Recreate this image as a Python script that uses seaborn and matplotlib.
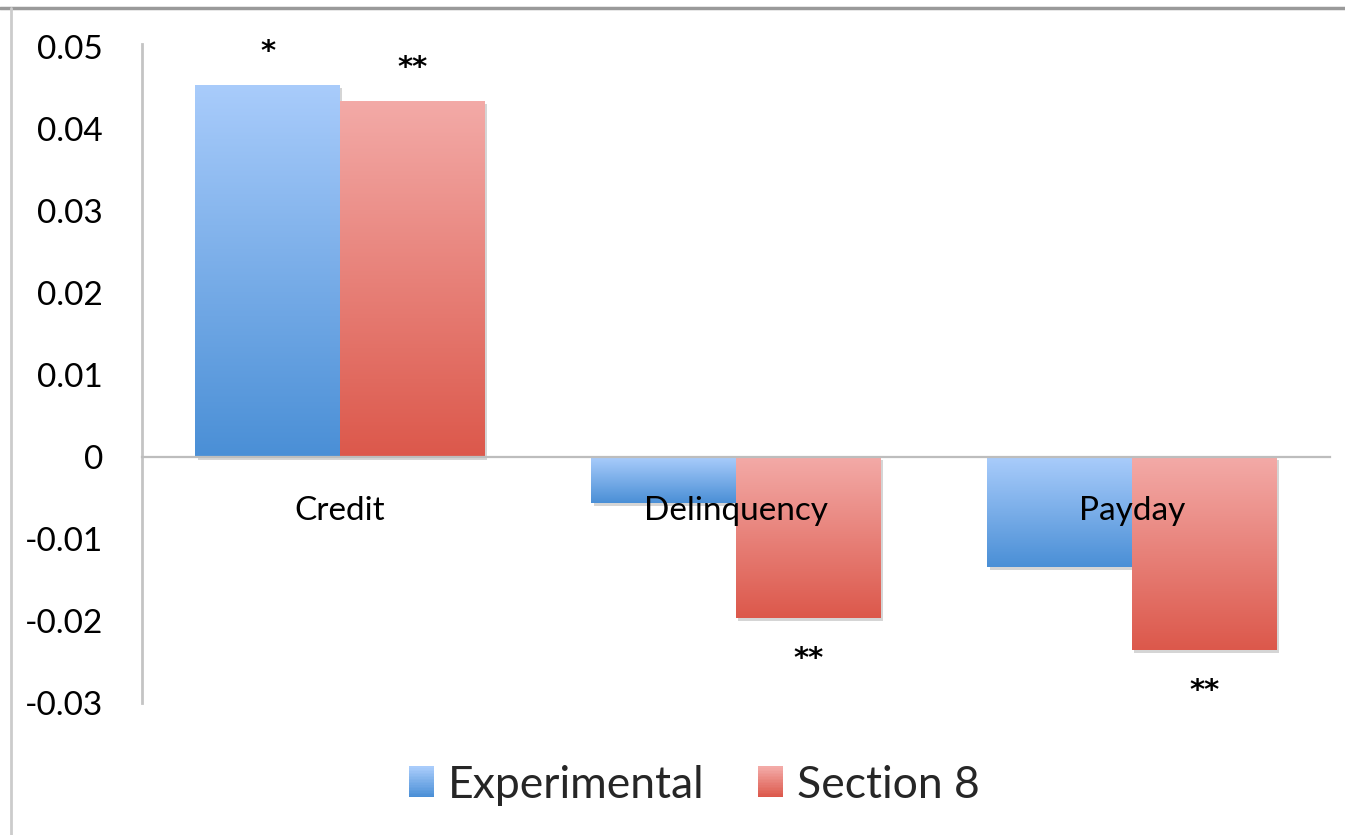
import numpy as np
import pandas as pd
import seaborn as sns
import matplotlib.pyplot as plt
from matplotlib.colors import LinearSegmentedColormap
from matplotlib.patches import Rectangle
from matplotlib.lines import Line2D
from matplotlib.legend_handler import HandlerBase
import matplotlib.patheffects as pe

# Data
categories = ['Credit', 'Delinquency', 'Payday']
experimental = [0.0454, -0.0056, -0.0134]
section8 = [0.0434, -0.0196, -0.0235]
exp_stars = ['*', '', '']
sec8_stars = ['**', '**', '**']
series_names = ['Experimental', 'Section 8']
y_ticks = [-0.03, -0.02, -0.01, 0, 0.01, 0.02, 0.03, 0.04, 0.05]
y_labels = ['-0.03', '-0.02', '-0.01', '0', '0.01', '0.02', '0.03', '0.04', '0.05']

# gradient colours (top, bottom) for each series
grads = {'Experimental': ('#a9ccfb', '#4a8fd6'),
         'Section 8': ('#f3aaa7', '#dc584b')}

df = pd.DataFrame({
    'category': categories * 2,
    'value': experimental + section8,
    'series': [series_names[0]] * 3 + [series_names[1]] * 3,
})

sns.set_style('white')
plt.rcParams['font.family'] = ['Lato', 'DejaVu Sans']

fig = plt.figure(figsize=(13.45, 8.35), dpi=100)
ax = fig.add_axes([142 / 1345, 1 - 703 / 835, (1330 - 142) / 1345, (703 - 44) / 835])

mid = {k: v[1] for k, v in grads.items()}
sns.barplot(data=df, x='category', y='value', hue='series', palette=mid,
            width=0.73, ax=ax, legend=False, errorbar=None, linewidth=0)

# gradient fill on every bar
shadow = [pe.SimplePatchShadow(offset=(1.5, -2), shadow_rgbFace='#888888', alpha=0.35), pe.Normal()]
gvals = np.linspace(0, 1, 256).reshape(-1, 1)
for container, name in zip(ax.containers, series_names):
    top, bot = grads[name]
    cmap = LinearSegmentedColormap.from_list(name, [bot, top])
    for bar in container:
        bar.set_path_effects(shadow)
        x0, y0 = bar.get_xy()
        w, h = bar.get_width(), bar.get_height()
        im = ax.imshow(gvals, extent=[x0, x0 + w, min(y0, y0 + h), max(y0, y0 + h)],
                       origin='lower', cmap=cmap, aspect='auto', zorder=bar.get_zorder() + 0.1)
        im.set_clip_path(bar)

# significance stars
for container, stars in zip(ax.containers, [exp_stars, sec8_stars]):
    for bar, s in zip(container, stars):
        if not s:
            continue
        xc = bar.get_x() + bar.get_width() / 2
        yv = bar.get_y() + bar.get_height()
        off = 14 if yv > 0 else -40
        ax.annotate(s, (xc, yv), xytext=(0, off), textcoords='offset points',
                    ha='center', va='bottom', fontsize=21, fontweight='bold',
                    family='DejaVu Sans', color='black')

ax.set_xlim(-0.5, 2.5)
ax.set_ylim(-0.03, 0.0504)
ax.set_yticks(y_ticks)
ax.set_yticklabels(y_labels)
ax.set_xlabel('')
ax.set_ylabel('')
ax.set_axisbelow(False)

for side in ['top', 'right']:
    ax.spines[side].set_visible(False)
ax.spines['bottom'].set_position(('data', 0))
ax.spines['bottom'].set_color('#bdbdbd')
ax.spines['bottom'].set_linewidth(1.6)
ax.spines['left'].set_color('#c4c4c4')
ax.spines['left'].set_linewidth(2)
ax.tick_params(axis='y', length=0, pad=28, labelsize=24, labelcolor='black')
ax.tick_params(axis='x', length=0, pad=28, labelsize=24, labelcolor='black')


# legend with gradient squares
class GradHandler(HandlerBase):
    def __init__(self, top, bot):
        super().__init__()
        self.top, self.bot = top, bot

    def create_artists(self, legend, orig_handle, xdescent, ydescent, width, height, fontsize, trans):
        cmap = LinearSegmentedColormap.from_list('lg', [self.bot, self.top])
        n = 20
        arts = []
        for i in range(n):
            arts.append(Rectangle((-xdescent, -ydescent + height * i / n), width, height / n + 0.3,
                                  facecolor=cmap(i / (n - 1)), edgecolor='none', transform=trans))
        return arts


handles = [Rectangle((0, 0), 1, 1) for _ in series_names]
hmap = {h: GradHandler(*grads[n]) for h, n in zip(handles, series_names)}
fig.legend(handles, series_names, handler_map=hmap, loc='center', ncol=2,
           bbox_to_anchor=(694 / 1345, 1 - 785 / 835), frameon=False, fontsize=32,
           handlelength=0.58, handleheight=0.68, handletextpad=0.3, columnspacing=1.2)

# outer chart border (top and left edges)
fig.add_artist(Line2D([0, 1], [1 - 8 / 835, 1 - 8 / 835], color='#9a9a9a', linewidth=2.5))
fig.add_artist(Line2D([11 / 1345, 11 / 1345], [0, 1 - 8 / 835], color='#cccccc', linewidth=2))

plt.savefig('out.png', dpi=100)
